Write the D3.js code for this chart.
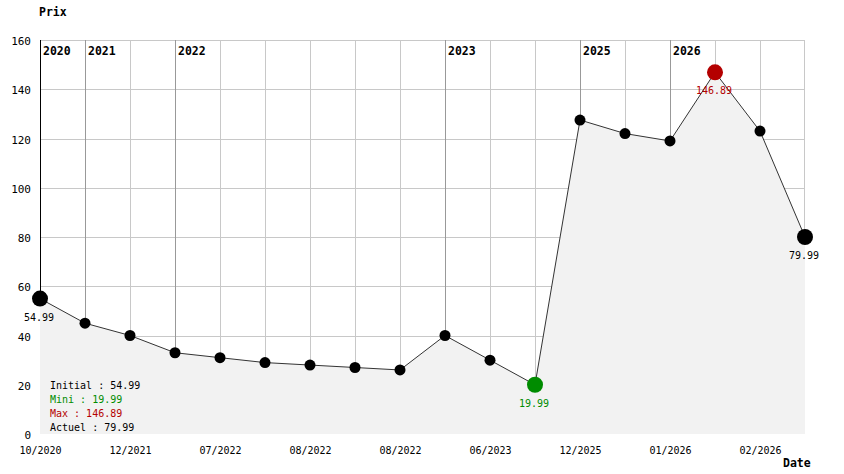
<!DOCTYPE html>
<html lang="en">
<head>
  <script src="https://d3js.org/d3.v7.min.js"></script>
  <style>
    body {
      margin: 0;
      background: #fff;
      font: 10px "DejaVu Sans Mono", monospace;
    }
    .grid line {
      stroke: #c8c8c8;
      shape-rendering: crispEdges;
    }
    .year line {
      stroke: #999;
      shape-rendering: crispEdges;
    }
    .axis text {
      font: 10px "DejaVu Sans Mono", monospace;
      fill: #000;
    }
    .axis.axis--y text {
      font-size: 11px;
    }
    .title {
      font: bold 11.5px "DejaVu Sans Mono", monospace;
    }
  </style>
</head>
<body>
<div id="chart"></div>
<script>
  // one entry per sample, in order
  var prices = [54.99, 45, 40, 33, 31, 29, 28, 27, 26, 40, 30, 19.99, 127.5, 122, 119, 146.89, 123, 79.99];
  // date labels shown under every other sample
  var dateLabels = ["10/2020", "", "12/2021", "", "07/2022", "", "08/2022", "", "08/2022", "",
                    "06/2023", "", "12/2025", "", "01/2026", "", "02/2026", ""];
  // sample index where a new year starts
  var yearIdx = [0, 1, 3, 9, 12, 14];
  var yearNames = ["2020", "2021", "2022", "2023", "2025", "2026"];
  var yTicks = [0, 20, 40, 60, 80, 100, 120, 140, 160];

  var margin = {top: 40, right: 40, bottom: 40, left: 40},
      width = 844 - margin.left - margin.right,
      height = 474 - margin.top - margin.bottom;

  var svg = d3.select("#chart").append("svg")
      .attr("width", 844)
      .attr("height", 474);

  var g = svg.append("g")
      .attr("transform", "translate(" + margin.left + "," + margin.top + ")");

  var x = d3.scaleLinear().domain([0, prices.length - 1]).range([0, 765]);
  var y = d3.scaleLinear().domain([0, 160]).range([394, 0]);

  var minV = d3.min(prices), maxV = d3.max(prices);
  var iMin = prices.indexOf(minV), iMax = prices.indexOf(maxV), iLast = prices.length - 1;

  // grid (drawn first, the area covers it)
  var grid = g.append("g").attr("class", "grid");
  grid.selectAll("line.h")
      .data(yTicks.filter(function(t) { return t > 0; }))
      .enter().append("line")
      .attr("x1", 0).attr("x2", 764)
      .attr("y1", function(d) { return Math.round(y(d)) + 0.5; })
      .attr("y2", function(d) { return Math.round(y(d)) + 0.5; });
  grid.selectAll("line.v")
      .data(d3.range(1, prices.length - 1).filter(function(i) { return yearIdx.indexOf(i) < 0; }))
      .enter().append("line")
      .attr("x1", function(i) { return Math.round(x(i)) + 0.5; })
      .attr("x2", function(i) { return Math.round(x(i)) + 0.5; })
      .attr("y1", 0).attr("y2", function(i) { return y(prices[i]); });
  grid.append("line")
      .attr("x1", 764.5).attr("x2", 764.5)
      .attr("y1", 0).attr("y2", y(prices[iLast]));

  // area under the line
  g.append("path")
      .datum(prices)
      .attr("fill", "#f2f2f2")
      .attr("d", d3.area()
          .x(function(d, i) { return x(i); })
          .y0(y(0))
          .y1(function(d) { return y(d); }));

  // year separators
  var years = g.append("g").attr("class", "year");
  years.selectAll("line")
      .data(yearIdx)
      .enter().append("line")
      .attr("x1", function(i) { return Math.round(x(i)) + 0.5; })
      .attr("x2", function(i) { return Math.round(x(i)) + 0.5; })
      .attr("y1", 0)
      .attr("y2", function(i) { return y(prices[i]); })
      .style("stroke", function(i) { return i === 0 ? "#000" : null; });
  years.selectAll("text")
      .data(yearIdx)
      .enter().append("text")
      .attr("class", "title")
      .attr("x", function(i) { return x(i) + 3; })
      .attr("y", 15)
      .text(function(d, k) { return yearNames[k]; });

  // axes
  var yAxis = d3.axisLeft(y).tickValues(yTicks).tickSize(0).tickPadding(9);
  g.append("g").attr("class", "axis axis--y")
      .call(yAxis)
      .call(function(s) { s.select(".domain").remove(); })
      .selectAll("text").attr("dy", "0.42em");

  var xAxis = d3.axisBottom(x)
      .tickValues(d3.range(0, prices.length, 2))
      .tickFormat(function(i) { return dateLabels[i]; })
      .tickSize(0).tickPadding(13);
  g.append("g").attr("class", "axis axis--x")
      .attr("transform", "translate(0," + y(0) + ")")
      .call(xAxis)
      .call(function(s) { s.select(".domain").remove(); });

  // line
  g.append("path")
      .datum(prices)
      .attr("fill", "none")
      .attr("stroke", "#333")
      .attr("stroke-width", 1)
      .attr("d", d3.line()
          .x(function(d, i) { return x(i); })
          .y(function(d) { return y(d); }));

  function dotColor(i) {
    if (i === iMin) return "#008c00";
    if (i === iMax) return "#b40000";
    return "#000";
  }
  var big = [0, iMin, iMax, iLast];

  g.selectAll("circle")
      .data(prices)
      .enter().append("circle")
      .attr("cx", function(d, i) { return x(i); })
      .attr("cy", function(d) { return y(d); })
      .attr("r", function(d, i) { return big.indexOf(i) >= 0 ? 8 : 5.5; })
      .attr("fill", function(d, i) { return dotColor(i); });

  // value labels on notable points
  g.selectAll("text.val")
      .data(big)
      .enter().append("text")
      .attr("class", "val")
      .attr("x", function(i) { return x(i) - 1; })
      .attr("y", function(i) { return y(prices[i]) + 22; })
      .attr("text-anchor", "middle")
      .attr("fill", function(i) { return dotColor(i); })
      .text(function(i) { return prices[i].toFixed(2); });

  // summary box
  var summary = [
    {t: "Initial : " + prices[0].toFixed(2), c: "#000"},
    {t: "Mini : " + minV.toFixed(2), c: "#008c00"},
    {t: "Max : " + maxV.toFixed(2), c: "#b40000"},
    {t: "Actuel : " + prices[iLast].toFixed(2), c: "#000"}
  ];
  g.selectAll("text.sum")
      .data(summary)
      .enter().append("text")
      .attr("class", "sum")
      .attr("x", 10)
      .attr("y", function(d, k) { return 349 + k * 14; })
      .attr("fill", function(d) { return d.c; })
      .text(function(d) { return d.t; });

  svg.append("text").attr("class", "title").attr("x", 39).attr("y", 16).text("Prix");
  svg.append("text").attr("class", "title").attr("x", 783).attr("y", 467).text("Date");
</script>
</body>
</html>
